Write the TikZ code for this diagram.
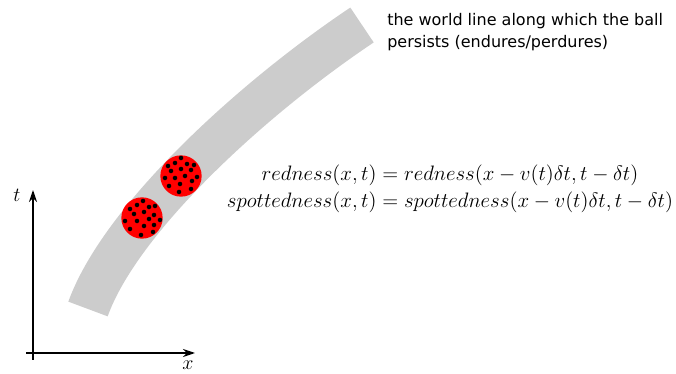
\documentclass[tikz,border=0pt]{standalone}
\usepackage{fontspec}
\newfontfamily\notefont{DejaVu Sans}
\usetikzlibrary{arrows.meta,positioning,calc}

\begin{document}
\begin{tikzpicture}[x=0.75pt, y=-0.75pt,
    axis/.style={-{Stealth[length=9pt,width=6pt]}, line width=1pt},
    worldline/.style={black!20, line width=31.5pt},
    ball/.style={circle, fill=red, minimum size=31pt, inner sep=0pt},
    note/.style={font=\notefont\fontsize{12}{16.5}\selectfont, align=left, anchor=north west, inner sep=0pt},
    eqs/.style={font=\fontsize{12}{15.3}\selectfont, align=center, inner sep=0pt, scale=1.305},
    axlabel/.style={font=\fontsize{12}{14}\selectfont, inner sep=0pt, scale=1.25},
]
\useasboundingbox (0,0) rectangle (676,374);

% World line
\draw[worldline] (88,309) .. controls (120,220) and (250,100) .. (362,25);
\node[note] (note) at (387,13) {the world line along which the ball\\persists (endures/perdures)};

% Balls
\node[ball] (ball1) at (142,218) {};
\node[ball] (ball2) at (181,176) {};
\foreach \dx/\dy in {1/-17, -5/-13, -12/-9, 7/-11, 13/-12, 2/-6, -8/-4, 12/-3,
    18/2, 7/1, -5/3, -17/3, 2/8, -12/11, 12/7, -1/17, 11/14}
    \fill (ball1) ++(\dx,\dy) circle (1.7pt);
\foreach \dx/\dy in {0/-18, -13/-10, -6/-13, 6/-12, 13/-11, -10/-5, 0/-7, 10/-6,
    -16/2, -6/2, 4/0, 16/1, -12/10, -1/8, 11/5, -2/16, 10/13}
    \fill (ball2) ++(\dx,\dy) circle (1.7pt);

% Equations
\node[eqs] (eqs) at (450,189) {$redness(x,t) = redness(x-v(t)\delta t, t-\delta t)$\\
    $spottedness(x,t) = spottedness(x-v(t)\delta t, t-\delta t)$};

% Axes
\coordinate (tbot) at (33,360);
\coordinate (ttop) at (33,190);
\coordinate (xleft) at (26,353);
\coordinate (xright) at (195,353);
\draw[axis] (tbot) -- (ttop);
\draw[axis] (xleft) -- (xright);
\node[axlabel] (tlabel) at (17,195) {$t$};
\node[axlabel] (xlabel) at (188,365) {$x$};
\end{tikzpicture}
\end{document}
